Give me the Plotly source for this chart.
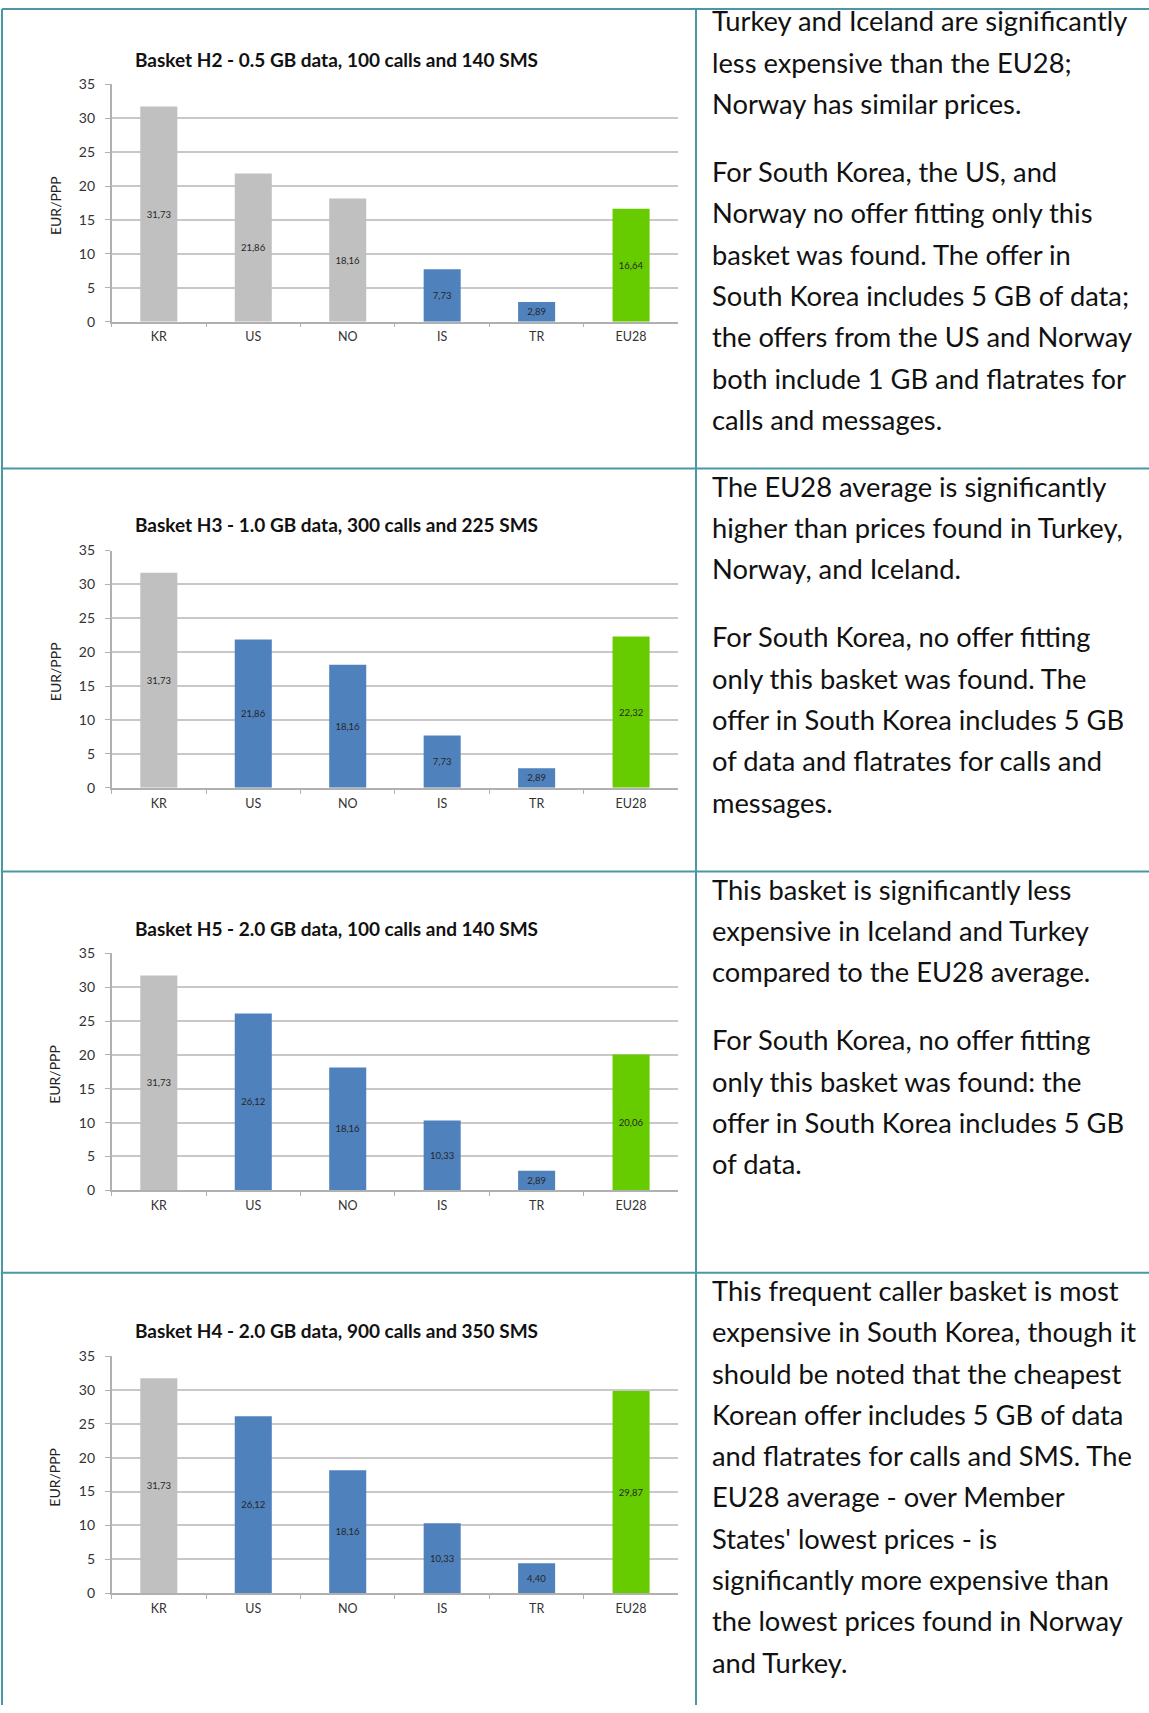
import plotly.graph_objects as go

# ---------------- data ----------------
countries = ["KR", "US", "NO", "IS", "TR", "EU28"]

titles = [
    "Basket H2 - 0.5 GB data, 100 calls and 140 SMS",
    "Basket H3 - 1.0 GB data, 300 calls and 225 SMS",
    "Basket H5 - 2.0 GB data, 100 calls and 140 SMS",
    "Basket H4 - 2.0 GB data, 900 calls and 350 SMS",
]

h2_values = [31.73, 21.86, 18.16, 7.73, 2.89, 16.64]
h3_values = [31.73, 21.86, 18.16, 7.73, 2.89, 22.32]
h5_values = [31.73, 26.12, 18.16, 10.33, 2.89, 20.06]
h4_values = [31.73, 26.12, 18.16, 10.33, 4.40, 29.87]

# bar kind: "other" = no offer fitting only this basket, "fit" = fitting offer, "eu" = EU28 average
h2_kind = ["other", "other", "other", "fit", "fit", "eu"]
h3_kind = ["other", "fit", "fit", "fit", "fit", "eu"]
h5_kind = ["other", "fit", "fit", "fit", "fit", "eu"]
h4_kind = ["other", "fit", "fit", "fit", "fit", "eu"]

y_ticks = [0, 5, 10, 15, 20, 25, 30, 35]
y_label = "EUR/PPP"

row1_text = [
    ["Turkey and Iceland are significantly", "less expensive than the EU28;", "Norway has similar prices."],
    ["For South Korea, the US, and", "Norway no offer fitting only this", "basket was found. The offer in",
     "South Korea includes 5 GB of data;", "the offers from the US and Norway",
     "both include 1 GB and flatrates for", "calls and messages."],
]
row2_text = [
    ["The EU28 average is significantly", "higher than prices found in Turkey,", "Norway, and Iceland."],
    ["For South Korea, no offer fitting", "only this basket was found. The", "offer in South Korea includes 5 GB",
     "of data and flatrates for calls and", "messages."],
]
row3_text = [
    ["This basket is significantly less", "expensive in Iceland and Turkey", "compared to the EU28 average."],
    ["For South Korea, no offer fitting", "only this basket was found: the", "offer in South Korea includes 5 GB",
     "of data."],
]
row4_text = [
    ["This frequent caller basket is most", "expensive in South Korea, though it",
     "should be noted that the cheapest", "Korean offer includes 5 GB of data",
     "and flatrates for calls and SMS. The", "EU28 average - over Member",
     "States' lowest prices - is", "significantly more expensive than",
     "the lowest prices found in Norway", "and Turkey."],
]

# ---------------- styling / layout ----------------
W, H = 1149, 1713
# the page shows the figure slightly offset / scaled vertically; compensate
Y_OFF, Y_SCALE = 7.9, 0.9905
KIND_COLORS = {"other": "#c0c0c0", "fit": "#4f81bd", "eu": "#66cc00"}
BORDER = "#4a98a4"
CHART_FONT = "Lato"

charts = [
    (titles[0], h2_values, h2_kind),
    (titles[1], h3_values, h3_kind),
    (titles[2], h5_values, h5_kind),
    (titles[3], h4_values, h4_kind),
]
texts = [row1_text, row2_text, row3_text, row4_text]

# target positions in screen pixels
row_tops = [2, 467.5, 870.7, 1272.3]
plot_px = [(83.3, 320.7), (549.7, 787.0), (952.7, 1189.7), (1355.7, 1592.7)]  # (top, bottom)
title_px = [58, 524, 927.3, 1330]
x_left, x_right = 111.6, 678.3
title_cx = 336.6
ylabel_cx = 55
divider_x = 696


def px_x(x):
    return x / W


def px_y(y):
    yf = (y - Y_OFF) / Y_SCALE
    yf = min(max(yf, 0.0), H)
    return 1 - yf / H


fig = go.Figure()
annotations = []
shapes = []

for i, (title, vals, kinds) in enumerate(charts):
    n = "" if i == 0 else str(i + 1)
    xa, ya = "x" + n, "y" + n
    fig.add_trace(go.Bar(
        x=countries, y=vals, xaxis=xa, yaxis=ya,
        marker=dict(color=[KIND_COLORS[k] for k in kinds], line=dict(width=0)),
        text=[f"{v:.2f}".replace(".", ",") for v in vals],
        textposition="inside", insidetextanchor="middle",
        textfont=dict(family=CHART_FONT, size=9.5, color="#262626"),
        textangle=0, hoverinfo="skip", showlegend=False,
    ))
    top, bot = plot_px[i]
    fig.layout["xaxis" + n] = dict(
        domain=[px_x(x_left), px_x(x_right)], anchor=ya,
        type="category", tickson="boundaries", ticks="outside", ticklen=4,
        tickcolor="#b0b0b0", tickwidth=1.2, ticklabelstandoff=3,
        showline=True, linecolor="#b0b0b0", linewidth=1.5,
        showgrid=False, fixedrange=True,
        tickfont=dict(family=CHART_FONT, size=12.5, color="#333333"),
    )
    fig.layout["yaxis" + n] = dict(
        domain=[px_y(bot), px_y(top)], anchor=xa,
        range=[0, 35], tickvals=y_ticks, ticks="outside", ticklen=5,
        tickcolor="#b0b0b0", tickwidth=1.2, ticklabelstandoff=7,
        showline=True, linecolor="#b0b0b0", linewidth=1.5,
        showgrid=True, gridcolor="#c8c8c8", gridwidth=1.5,
        zeroline=False, fixedrange=True,
        tickfont=dict(family=CHART_FONT, size=14, color="#333333"),
    )
    annotations.append(dict(
        text=title, x=px_x(title_cx), y=px_y(title_px[i]), xref="paper", yref="paper",
        xanchor="center", yanchor="middle", showarrow=False,
        font=dict(family=CHART_FONT, size=19, color="#111111", weight="bold"),
    ))
    annotations.append(dict(
        text=y_label, x=px_x(ylabel_cx), y=px_y((top + bot) / 2 + 3), xref="paper", yref="paper",
        xanchor="center", yanchor="middle", showarrow=False, textangle=-90,
        font=dict(family=CHART_FONT, size=14, color="#222222"),
    ))

# text column
LINE = 41.3
PARA_EXTRA = 27.0
FS = 27.3
for r, paras in enumerate(texts):
    base = row_tops[r] + 27.5
    k = 0
    for p, lines in enumerate(paras):
        for line in lines:
            bl = base + k * LINE + p * PARA_EXTRA
            annotations.append(dict(
                text=line, x=px_x(710), y=px_y(bl - 0.36 * FS), xref="paper", yref="paper",
                xanchor="left", yanchor="middle", showarrow=False,
                font=dict(family="Lato", size=FS, color="#111111"),
            ))
            k += 1

# table borders
line_style = dict(color=BORDER, width=2)
for y in row_tops:
    shapes.append(dict(type="line", xref="paper", yref="paper",
                       x0=px_x(2), x1=1, y0=px_y(y), y1=px_y(y), line=line_style))
for x in (2, divider_x):
    shapes.append(dict(type="line", xref="paper", yref="paper",
                       x0=px_x(x), x1=px_x(x), y0=px_y(2), y1=0, line=line_style))

fig.update_layout(
    width=W, height=H, margin=dict(l=0, r=0, t=0, b=0),
    paper_bgcolor="white", plot_bgcolor="white",
    bargap=0.608, annotations=annotations, shapes=shapes,
    showlegend=False,
)

fig.write_html("out.html", config={"displayModeBar": False})
